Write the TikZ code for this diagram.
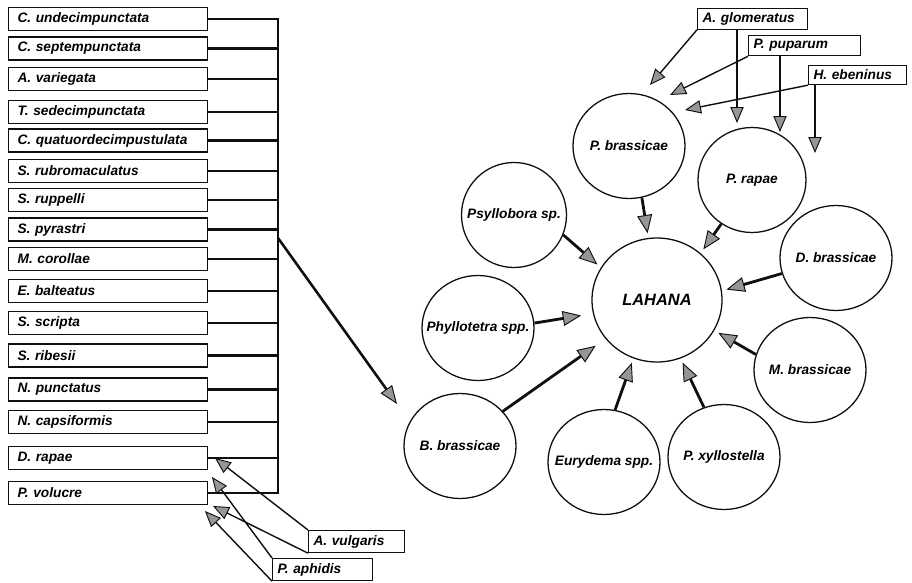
\documentclass[tikz,border=0pt]{standalone}
\usepackage{fontspec}
\setmainfont{Liberation Sans}
\usepackage{tikz}
\usetikzlibrary{shapes.geometric, arrows.meta, positioning, calc}
\definecolor{ink}{RGB}{15,15,15}
\definecolor{tipfill}{RGB}{150,150,150}
\tikzset{
  lbl/.style={font=\fontsize{11.7}{13}\selectfont\bfseries\itshape},
  listbox/.style={rectangle, draw=ink, lbl, line width=1pt, anchor=west,
    minimum height=0.69cm, text width=5.43cm, inner xsep=0.27cm, align=left},
  tagbox/.style={rectangle, draw=ink, lbl, line width=1pt, anchor=north west,
    minimum height=0.57cm, inner xsep=0.15cm, align=left},
  bubble/.style={ellipse, draw=ink, line width=1.1pt, inner sep=0pt,
    minimum width=3.36cm, minimum height=3.15cm, label={[lbl]center:#1}},
  bus/.style={line width=1.8pt, color=ink, line cap=rect},
  bigarrow/.style={line width=2.2pt, color=ink,
    -{Triangle[length=0.55cm, width=0.42cm, fill=tipfill, line width=0.8pt]}},
  feed/.style={line width=2.4pt, color=ink, shorten >=0.14cm,
    -{Triangle[length=0.55cm, width=0.45cm, fill=tipfill, line width=0.8pt]}},
  para/.style={line width=1.2pt, color=ink,
    -{Triangle[length=0.48cm, width=0.4cm, fill=tipfill, line width=0.8pt]}}
}

\begin{document}
\begin{tikzpicture}[x=0.03cm, y=-0.03cm]
  \useasboundingbox (0,0) rectangle (912,583);

  % natural enemies list
  \foreach \nm/\yy/\txt in {cund/19/{C. undecimpunctata}, csep/48.5/{C. septempunctata},
      avar/79/{A. variegata}, tsed/112/{T. sedecimpunctata},
      cqua/140.5/{C. quatuordecimpustulata}, srub/171/{S. rubromaculatus},
      srup/200/{S. ruppelli}, spyr/229.5/{S. pyrastri}, mcor/259/{M. corollae},
      ebal/291/{E. balteatus}, sscr/323/{S. scripta}, srib/355.5/{S. ribesii},
      npun/389.5/{N. punctatus}, ncap/422/{N. capsiformis},
      drap/458/{D. rapae}, pvol/493/{P. volucre}}
    \node[listbox] (\nm) at (8,\yy) {\txt};

  \coordinate (bustop) at (278,20);
  \draw[bus] (cund.east -| bustop) -- (pvol.east -| bustop);
  \foreach \nm in {cund,csep,avar,tsed,cqua,srub,srup,spyr,mcor,ebal,sscr,srib,npun,ncap,drap,pvol}
    \draw[bus] (\nm.east) -- (\nm.east -| bustop);

  \coordinate (busmid) at (278,238);
  \coordinate (hostin) at (397,404);
  \draw[bigarrow] (busmid) -- (hostin);

  % hyperparasitoids
  \node[tagbox, minimum height=0.66cm, text width=2.58cm] (avulg) at (308,530) {A. vulgaris};
  \node[tagbox, minimum height=0.66cm, text width=2.7cm] (paph) at (272,558) {P. aphidis};
  \coordinate (vtip1) at (215,458);
  \coordinate (vtip2) at (213,506);
  \coordinate (atip1) at (212,477);
  \coordinate (atip2) at (205,511);
  \draw[para] (avulg.north west) -- (vtip1);
  \draw[para] (avulg.south west) -- (vtip2);
  \draw[para] (paph.north west) -- (atip1);
  \draw[para] (paph.south west) -- (atip2);

  % host and pests
  \node[ellipse, draw=ink, line width=1.1pt, inner sep=0pt, minimum width=3.9cm,
    minimum height=3.72cm, font=\fontsize{14}{16}\selectfont\bfseries\itshape] (lahana) at (657,300) {LAHANA};
  \node[bubble=P. brassicae] (pbras) at (629,146) {};
  \node[bubble=P. rapae, minimum width=3.24cm] (prap) at (752,180) {};
  \node[bubble=D. brassicae] (dbras) at (836,258) {};
  \node[bubble=M. brassicae] (mbras) at (810,370) {};
  \node[bubble=P. xyllostella] (pxyl) at (724,457) {};
  \node[bubble=Eurydema spp.] (eury) at (604,462) {};
  \node[bubble=B. brassicae] (bbras) at (460,446) {};
  \node[bubble=Phyllotetra spp.] (phyl) at (478,328) {};
  \node[bubble=Psyllobora sp., minimum width=3.15cm] (psyl) at (514,215) {};

  \draw[feed] (pbras.-76) -- (lahana.98);
  \draw[feed] (prap.-125) -- (lahana.47);
  \draw[feed] (dbras.196) -- (lahana.8);
  \draw[feed] (mbras.164) -- (lahana.-28);
  \draw[feed] (pxyl.112) -- (lahana.-68);
  \draw[feed] (eury.78) -- (lahana.-112);
  \draw[feed, shorten >=0.36cm] (bbras.39) -- (lahana.-143);
  \draw[feed, shorten >=0.36cm] (phyl.5) -- (lahana.192);
  \draw[feed] (psyl.-22) -- (lahana.150);

  % parasitoids
  \node[tagbox, text width=3.0cm] (aglom) at (697,8) {A. glomeratus};
  \node[tagbox, text width=3.06cm] (ppup) at (748,35) {P. puparum};
  \node[tagbox, text width=2.64cm] (heben) at (808,65) {H. ebeninus};
  \coordinate (gtip1) at (650,85);
  \coordinate (gtip2) at (737,123);
  \coordinate (ptip1) at (670,95);
  \coordinate (ptip2) at (780,132);
  \coordinate (etip1) at (685,110);
  \coordinate (etip2) at (815,153);
  \draw[para] (aglom.south west) -- (gtip1);
  \draw[para] (aglom.south -| gtip2) -- (gtip2);
  \draw[para] (ppup.south west) -- (ptip1);
  \draw[para] (ppup.south -| ptip2) -- (ptip2);
  \draw[para] (heben.south west) -- (etip1);
  \draw[para] (heben.south -| etip2) -- (etip2);
\end{tikzpicture}
\end{document}
